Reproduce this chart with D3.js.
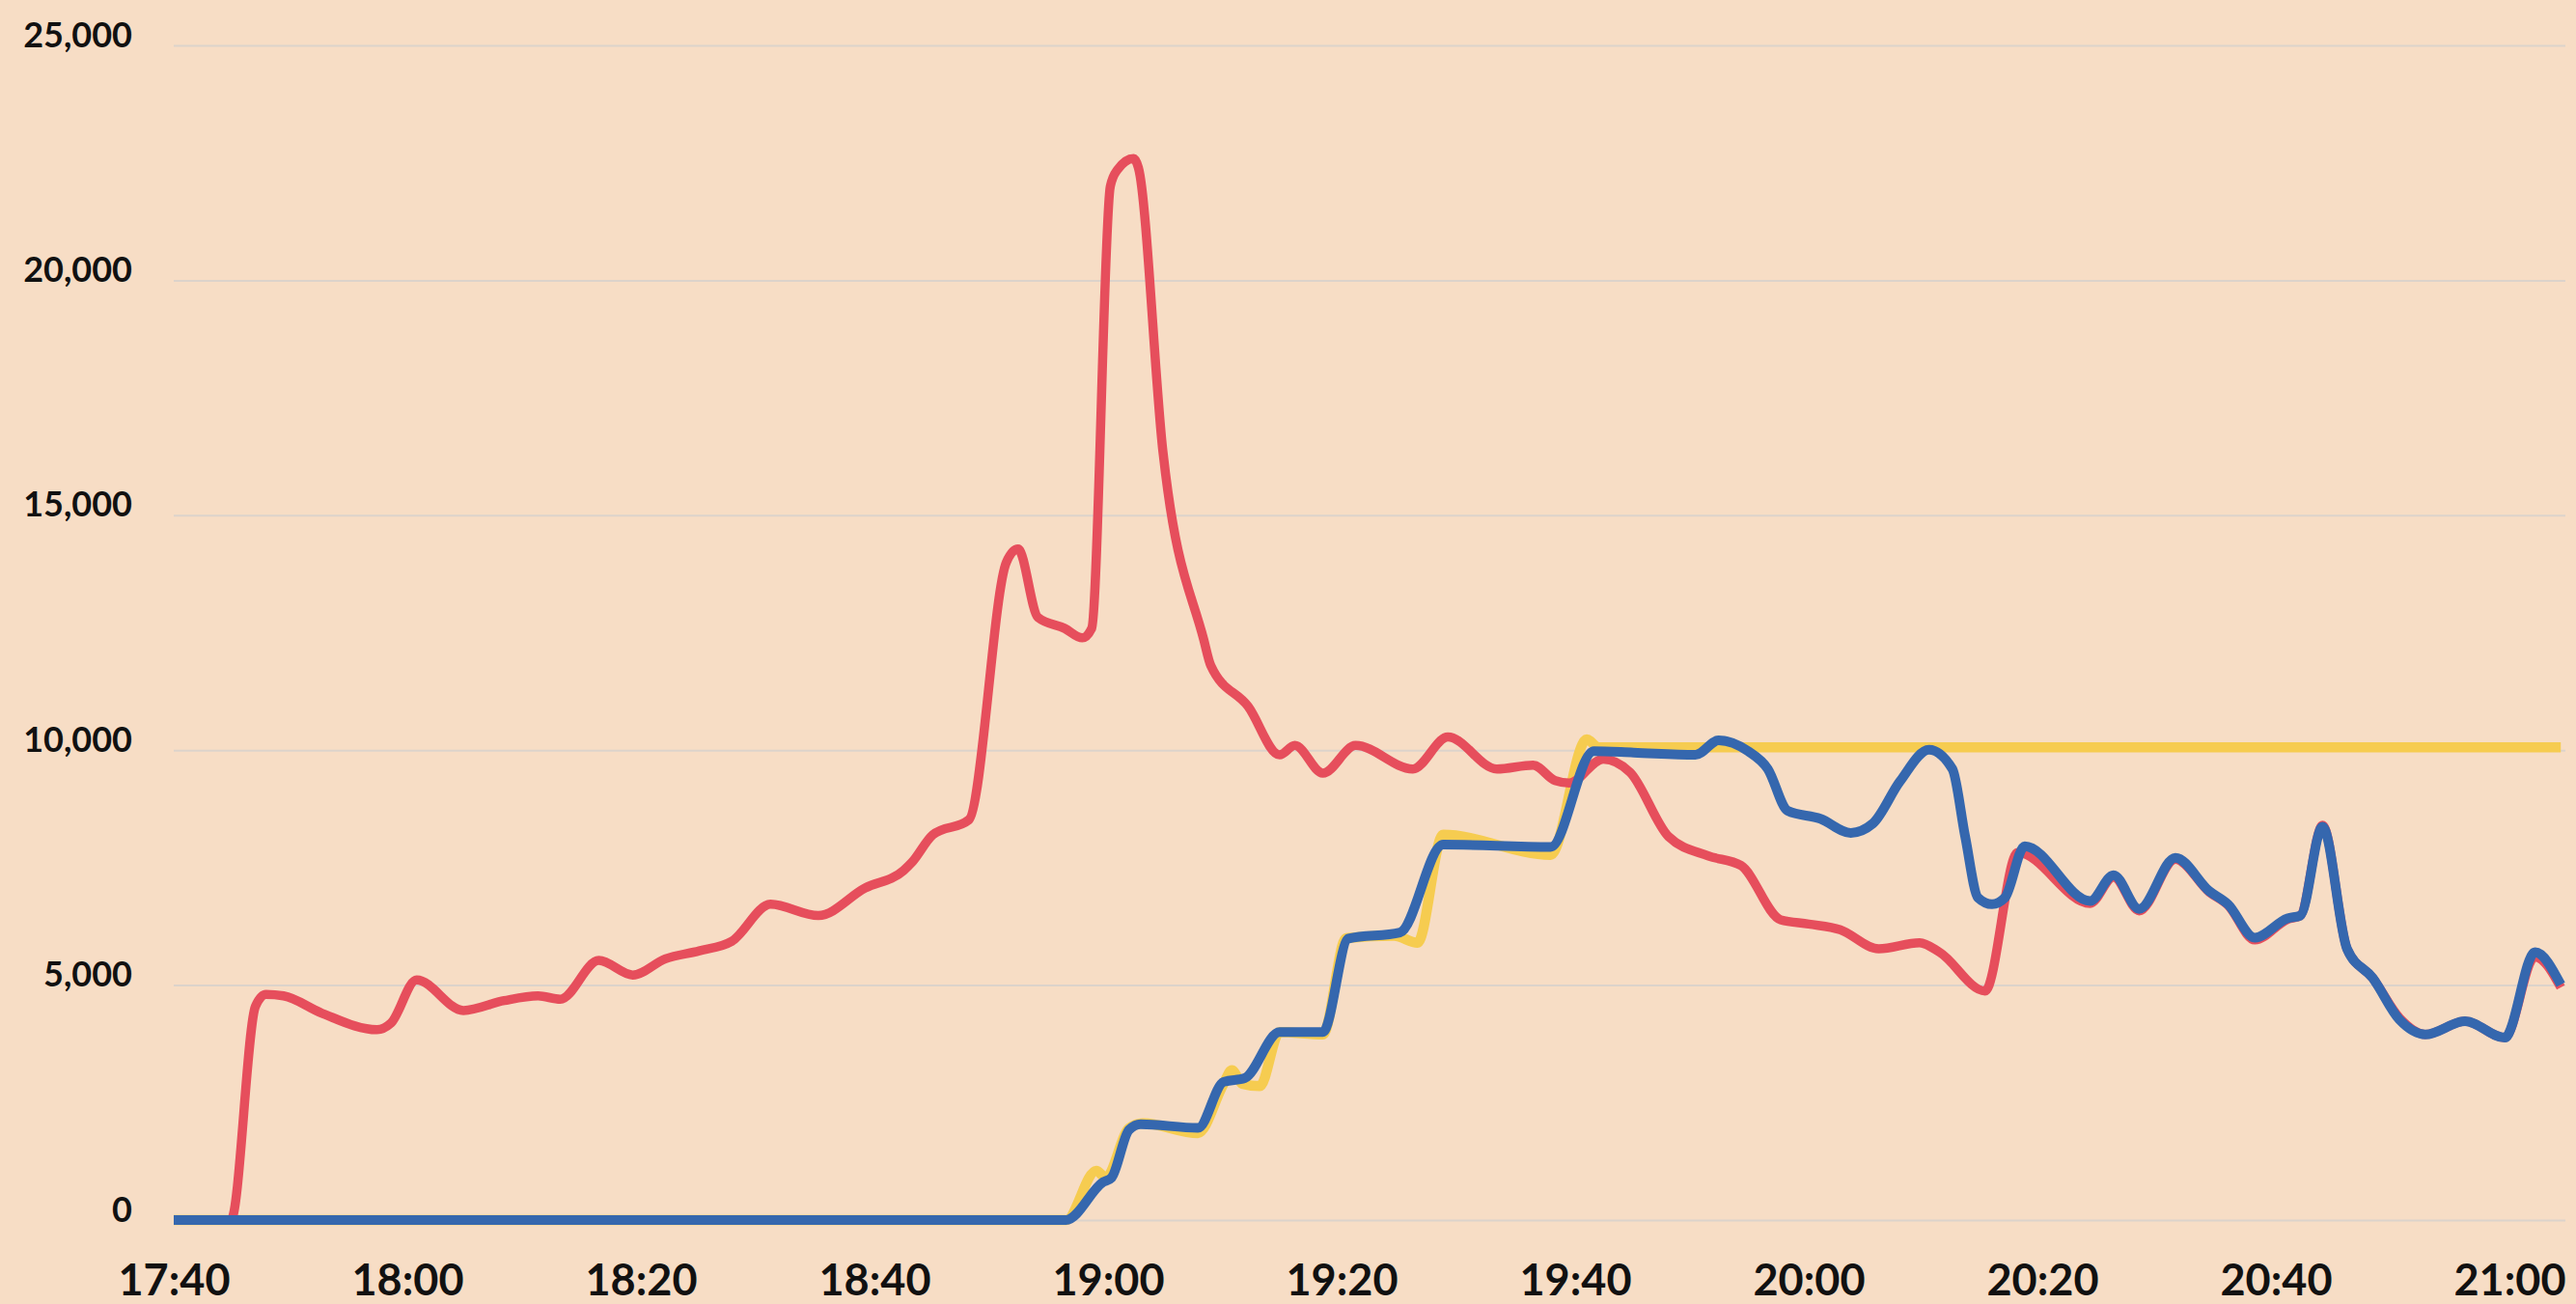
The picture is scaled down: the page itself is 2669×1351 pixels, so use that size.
<!DOCTYPE html>
<html>
<head>
<meta charset="utf-8">
<script src="https://cdn.jsdelivr.net/npm/d3@7"></script>
<style>
  body { margin: 0; background: #f7ddc5; }
  svg { display: block; }
  .tick text { font-family: Lato, "Open Sans", sans-serif; font-weight: 700; fill: #111; }
</style>
</head>
<body>
<svg width="2669" height="1351"></svg>
<script>
// times are minutes after 17:40
var red = [[0,0],[4.9,0],[7.0,4550],[7.9,4800],[9.4,4770],[12.7,4400],[17.4,4050],[18.6,4190],
    [20.8,5110],[24.8,4460],[28.3,4670],[31.2,4770],[33.1,4700],[36.4,5525],[39.3,5215],[42.1,5560],
    [45,5730],[47.8,5935],[51.1,6720],[55.2,6480],[59.2,7065],[62.5,7440],[63.2,7610],[65,8200],
    [68.1,8520],[71.3,14000],[72.3,14280],[74,12825],[76.3,12590],[77.8,12390],[78.6,12590],
    [80.2,22000],[80.8,22350],[82.2,22590],[82.6,22400],[84.7,16360],[88.2,12350],[88.8,11800],
    [92,10930],[94.7,9900],[96,10100],[98.4,9510],[101.2,10100],[106.1,9600],[109.1,10280],
    [113.3,9600],[116.4,9680],[118.3,9350],[119.5,9300],[122.4,9810],[124.7,9530],[128,8160],
    [131.4,7750],[134.2,7545],[137.6,6390],[140,6300],[142.7,6180],[146,5770],[149.5,5900],
    [151.2,5700],[155.1,4875],[157.9,7820],[164.1,6740],[166.1,7300],[168.3,6580],[171.4,7680],
    [174.3,6980],[175.9,6700],[178.2,5960],[181,6400],[182.1,6480],[184,8400],[186.1,5770],
    [188.3,5150],[190.6,4300],[192.8,3950],[196.2,4230],[199.6,3880],[202.2,5600],[204.4,4950]];

var yellow = [[0,0],[76.4,0],[79,1050],[79.8,900],[81.8,1950],[83,2060],[87.7,1850],[89.9,2900],
    [90.6,3190],[91.5,2900],[93,2850],[94.7,4000],[98.4,3950],[100.4,6000],[104.5,6050],
    [106.5,5900],[108.7,8200],[117.9,7770],[121,10230],[122,10060],[204.4,10060]];

var blue = [[0,0],[76.4,0],[79.6,810],[80.3,900],[81.8,1920],[82.8,2040],[87.7,1960],[89.9,2940],
    [91.7,3020],[94.7,4000],[98.4,4000],[100.6,5990],[105,6120],[108.7,7990],[117.9,7940],
    [121.6,9980],[125,9950],[130.3,9900],[132.3,10210],[134.8,9980],[136.5,9600],[138.2,8710],
    [141,8540],[143.6,8240],[145.5,8440],[147.8,9330],[150.3,10010],[152.3,9600],[153.4,8160],
    [154.5,6860],[155.7,6720],[156.8,6860],[158.5,7955],[164.1,6790],[166.1,7340],[168.3,6620],
    [171.4,7710],[174.3,7000],[175.9,6720],[178.2,6010],[181,6420],[182.1,6480],[184,8370],
    [186.1,5770],[188.3,5150],[190.6,4260],[192.8,3950],[196.2,4230],[199.6,3880],[202.2,5700],
    [204.4,5010]];

var yTicks = [0, 5000, 10000, 15000, 20000, 25000];

var start = new Date(2020, 0, 1, 17, 40);
let toDate = m => new Date(start.getTime() + m * 60000);

let xScale = d3.scaleTime().domain([start, new Date(2020, 0, 1, 21, 0)]).range([180, 2600]);
let yScale = d3.scaleLinear().domain([0, 25000]).range([1264, 47]);

let svg = d3.select('svg');
svg.append('rect').attr('width', 2669).attr('height', 1351).attr('fill', '#f7ddc5');

// gridlines + y labels
let yAxis = d3.axisLeft(yScale).tickValues(yTicks).tickSize(-2478).tickPadding(43)
    .tickFormat(d3.format(','));
let yG = svg.append('g').attr('transform', 'translate(180,0)').call(yAxis);
yG.select('.domain').remove();
yG.selectAll('.tick line').attr('stroke', '#dcd3cb').attr('stroke-width', 2);
yG.selectAll('.tick text').attr('font-size', 36).attr('dy', '1px').attr('dominant-baseline', 'alphabetic');

let xAxis = d3.axisBottom(xScale).ticks(d3.timeMinute.every(20)).tickSize(0).tickPadding(0)
    .tickFormat(d3.timeFormat('%H:%M'));
let xG = svg.append('g').attr('transform', 'translate(0,1342)').call(xAxis);
xG.select('.domain').remove();
xG.selectAll('.tick text').attr('font-size', 45).attr('dy', 0).attr('dominant-baseline', 'alphabetic');

let line = d3.line().x(d => xScale(toDate(d[0]))).y(d => yScale(d[1])).curve(d3.curveMonotoneX);

[[yellow, '#f6cc50', 10.5], [red, '#e64e5c', 9.5], [blue, '#3567ae', 10]].forEach(s => {
    svg.append('path').datum(s[0]).attr('d', line)
        .attr('fill', 'none').attr('stroke', s[1]).attr('stroke-width', s[2])
        .attr('stroke-linejoin', 'round');
});
</script>
</body>
</html>
